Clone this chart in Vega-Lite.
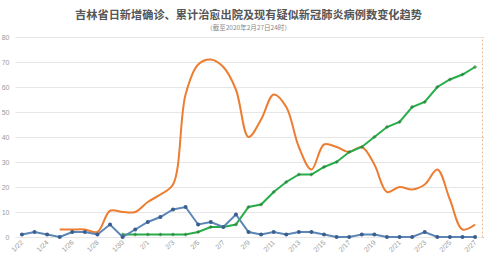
{
  "$schema": "https://vega.github.io/schema/vega-lite/v6.json",
  "width": 467,
  "height": 200,
  "autosize": {"type": "none"},
  "padding": {"left": 15, "top": 37, "right": 2, "bottom": 18},
  "background": "#ffffff",
  "title": {
    "text": "吉林省日新增确诊、累计治愈出院及现有疑似新冠肺炎病例数变化趋势",
    "subtitle": "（截至2020年2月27日24时）",
    "font": "Noto Sans CJK SC",
    "subtitleFont": "Noto Sans CJK SC",
    "fontSize": 11.2,
    "fontWeight": "bold",
    "color": "#555555",
    "subtitleFontSize": 6.5,
    "subtitleColor": "#888888",
    "subtitlePadding": 3,
    "anchor": "middle",
    "offset": 2
  },
  "config": {
    "view": {"stroke": null},
    "axis": {"labelFont": "Liberation Sans", "labelColor": "#9a9a9a", "labelFontSize": 7}
  },
  "data": {
    "values": [
      {"date": "1/22", "confirmed": 1, "discharged": null, "suspected": null},
      {"date": "1/23", "confirmed": 2, "discharged": null, "suspected": null},
      {"date": "1/24", "confirmed": 1, "discharged": null, "suspected": null},
      {"date": "1/25", "confirmed": 0, "discharged": null, "suspected": 3},
      {"date": "1/26", "confirmed": 2, "discharged": null, "suspected": 3},
      {"date": "1/27", "confirmed": 2, "discharged": null, "suspected": 3},
      {"date": "1/28", "confirmed": 1, "discharged": null, "suspected": 2},
      {"date": "1/29", "confirmed": 5, "discharged": null, "suspected": 10.5},
      {"date": "1/30", "confirmed": 0, "discharged": 1, "suspected": 10},
      {"date": "1/31", "confirmed": 3, "discharged": 1, "suspected": 10},
      {"date": "2/1", "confirmed": 6, "discharged": 1, "suspected": 14},
      {"date": "2/2", "confirmed": 8, "discharged": 1, "suspected": 17},
      {"date": "2/3", "confirmed": 11, "discharged": 1, "suspected": 21},
      {"date": "2/4", "confirmed": 12, "discharged": 1, "suspected": 57},
      {"date": "2/5", "confirmed": 5, "discharged": 2, "suspected": 69},
      {"date": "2/6", "confirmed": 6, "discharged": 4, "suspected": 71},
      {"date": "2/7", "confirmed": 4, "discharged": 4, "suspected": 68},
      {"date": "2/8", "confirmed": 9, "discharged": 5, "suspected": 59},
      {"date": "2/9", "confirmed": 2, "discharged": 12, "suspected": 40},
      {"date": "2/10", "confirmed": 1, "discharged": 13, "suspected": 47},
      {"date": "2/11", "confirmed": 2, "discharged": 18, "suspected": 57},
      {"date": "2/12", "confirmed": 1, "discharged": 22, "suspected": 52},
      {"date": "2/13", "confirmed": 2, "discharged": 25, "suspected": 36},
      {"date": "2/14", "confirmed": 2, "discharged": 25, "suspected": 27},
      {"date": "2/15", "confirmed": 1, "discharged": 28, "suspected": 37},
      {"date": "2/16", "confirmed": 0, "discharged": 30, "suspected": 36},
      {"date": "2/17", "confirmed": 0, "discharged": 34, "suspected": 34},
      {"date": "2/18", "confirmed": 1, "discharged": 36, "suspected": 36},
      {"date": "2/19", "confirmed": 1, "discharged": 40, "suspected": 29},
      {"date": "2/20", "confirmed": 0, "discharged": 44, "suspected": 18},
      {"date": "2/21", "confirmed": 0, "discharged": 46, "suspected": 20},
      {"date": "2/22", "confirmed": 0, "discharged": 52, "suspected": 19},
      {"date": "2/23", "confirmed": 2, "discharged": 54, "suspected": 21},
      {"date": "2/24", "confirmed": 0, "discharged": 60, "suspected": 27},
      {"date": "2/25", "confirmed": 0, "discharged": 63, "suspected": 15},
      {"date": "2/26", "confirmed": 0, "discharged": 65, "suspected": 3},
      {"date": "2/27", "confirmed": 0, "discharged": 68, "suspected": 5}
    ]
  },
  "encoding": {
    "x": {
      "field": "date",
      "type": "ordinal",
      "sort": null,
      "scale": {"type": "point", "padding": 0.55},
      "axis": {
        "title": null,
        "values": ["1/22", "1/24", "1/26", "1/28", "1/30", "2/1", "2/3", "2/5", "2/7", "2/9", "2/11", "2/13", "2/15", "2/17", "2/19", "2/21", "2/23", "2/25", "2/27"],
        "labelAngle": -45,
        "labelAlign": "right",
        "labelBaseline": "middle",
        "ticks": false,
        "domain": false,
        "labelPadding": 4,
        "labelOverlap": false
      }
    }
  },
  "resolve": {"axis": {"y": "independent"}},
  "layer": [
    {
      "mark": {"type": "line", "color": "#ed7d31", "strokeWidth": 2, "interpolate": "catmull-rom"},
      "encoding": {
        "y": {
          "field": "suspected",
          "type": "quantitative",
          "scale": {"domain": [0, 80]},
          "axis": {
            "title": null,
            "orient": "left",
            "values": [0, 10, 20, 30, 40, 50, 60, 70, 80],
            "grid": true,
            "gridColor": "#e6e6e6",
            "gridWidth": 1,
            "domain": false,
            "ticks": false,
            "labelPadding": 6
          }
        }
      }
    },
    {
      "mark": {"type": "line", "color": "#27ae4a", "strokeWidth": 2},
      "encoding": {
        "y": {
          "field": "discharged",
          "type": "quantitative",
          "scale": {"domain": [0, 80]},
          "axis": {
            "title": null,
            "orient": "right",
            "labels": false,
            "grid": false,
            "ticks": true,
            "tickSize": 2,
            "tickColor": "#f0c8a8",
            "domain": true,
            "domainColor": "#f0b88a",
            "domainDash": [2, 2],
            "domainWidth": 1
          }
        }
      }
    },
    {
      "mark": {"type": "point", "shape": "cross", "filled": true, "color": "#2e7d3a", "size": 14},
      "encoding": {
        "y": {"field": "discharged", "type": "quantitative", "scale": {"domain": [0, 80]}, "axis": null}
      }
    },
    {
      "mark": {"type": "line", "color": "#5b86b5", "strokeWidth": 2},
      "encoding": {
        "y": {"field": "confirmed", "type": "quantitative", "scale": {"domain": [0, 80]}, "axis": null}
      }
    },
    {
      "mark": {"type": "point", "shape": "circle", "filled": true, "color": "#3a5f8e", "size": 16, "opacity": 1},
      "encoding": {
        "y": {"field": "confirmed", "type": "quantitative", "scale": {"domain": [0, 80]}, "axis": null}
      }
    }
  ]
}
